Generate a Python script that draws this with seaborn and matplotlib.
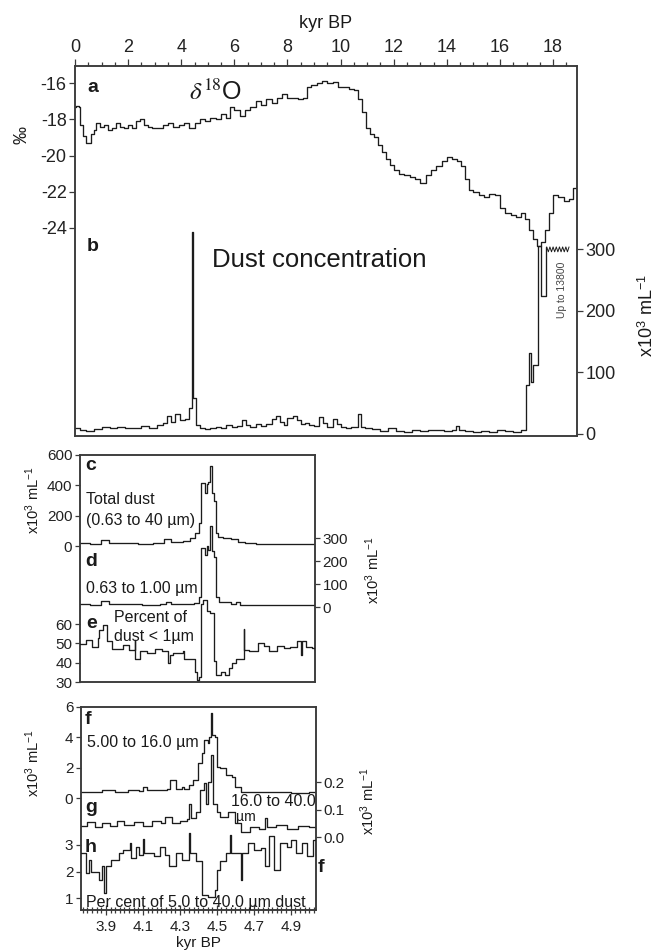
import numpy as np
import pandas as pd
import seaborn as sns
import matplotlib
matplotlib.use('Agg')
import matplotlib.pyplot as plt
from matplotlib.ticker import MultipleLocator

# ---- panel a : d18O (permil) against kyr BP
d18o_kyr = [0.0, 0.05, 0.15, 0.2, 0.3, 0.4, 0.5, 0.6, 0.7, 0.8, 0.95, 1.1, 1.25, 1.4, 1.55, 1.7, 1.85,
            2.0, 2.15, 2.3, 2.45, 2.6, 2.75, 2.9, 3.1, 3.3, 3.5, 3.7, 3.9, 4.1, 4.3, 4.5, 4.7, 4.9,
            5.1, 5.3, 5.5, 5.7, 5.85, 6.0, 6.2, 6.4, 6.6, 6.8, 7.0, 7.2, 7.4, 7.6, 7.8, 8.0, 8.2,
            8.4, 8.6, 8.75, 8.9, 9.1, 9.3, 9.5, 9.7, 9.9, 10.1, 10.3, 10.5, 10.65, 10.8, 10.95,
            11.1, 11.25, 11.4, 11.55, 11.7, 11.85, 12.0, 12.2, 12.4, 12.6, 12.8, 13.0, 13.2, 13.4,
            13.6, 13.8, 14.0, 14.2, 14.4, 14.55, 14.7, 14.85, 15.0, 15.2, 15.4, 15.6, 15.8, 16.0,
            16.2, 16.4, 16.6, 16.8, 16.95, 17.1, 17.25, 17.4, 17.55, 17.7, 17.85, 18.0, 18.2, 18.4,
            18.6, 18.75, 18.9]
d18o_val = [-17.3, -17.25, -17.3, -18.3, -18.9, -19.3, -19.3, -18.8, -18.6, -18.2, -18.4, -18.3, -18.6,
            -18.5, -18.2, -18.4, -18.5, -18.3, -18.5, -18.1, -18.0, -18.3, -18.4, -18.5, -18.5, -18.3,
            -18.2, -18.4, -18.3, -18.2, -18.5, -18.2, -18.0, -18.1, -17.9, -18.0, -17.7, -17.9, -17.3,
            -17.5, -17.8, -17.5, -17.3, -17.0, -17.2, -16.9, -17.1, -16.8, -16.6, -16.8, -16.8, -16.9,
            -16.8, -16.2, -16.1, -16.0, -15.9, -16.0, -15.95, -16.2, -16.2, -16.3, -16.4, -16.9, -17.6,
            -18.5, -18.8, -19.0, -19.4, -19.8, -20.2, -20.5, -20.8, -21.0, -21.1, -21.2, -21.3, -21.5,
            -21.1, -20.8, -20.6, -20.3, -20.1, -20.2, -20.3, -20.6, -21.3, -21.9, -22.0, -22.2, -22.3,
            -22.1, -22.2, -22.9, -23.2, -23.3, -23.4, -23.2, -23.5, -24.1, -24.6, -25.0, -24.8, -24.1,
            -23.2, -22.2, -22.3, -22.5, -22.4, -21.8, -21.6]

# ---- panel b : dust concentration (x10^3 per mL)
dust_kyr = [0.0, 0.2, 0.4, 0.7, 1.0, 1.3, 1.6, 1.9, 2.2, 2.5,
            2.8, 3.1, 3.3, 3.45, 3.6, 3.75, 3.95, 4.15, 4.28, 4.40,
            4.44, 4.55, 4.7, 4.9, 5.1, 5.3, 5.5, 5.7, 5.9, 6.1,
            6.3, 6.45, 6.6, 6.8, 7.0, 7.2, 7.4, 7.55, 7.7, 7.85,
            8.0, 8.2, 8.35, 8.5, 8.65, 8.8, 9.0, 9.2, 9.35, 9.5,
            9.7, 9.85, 10.0, 10.2, 10.4, 10.65, 10.75, 10.9, 11.2, 11.5,
            11.8, 12.1, 12.4, 12.7, 13.0, 13.3, 13.6, 13.9, 14.2, 14.35,
            14.45, 14.7, 15.0, 15.3, 15.6, 15.9, 16.2, 16.5, 16.8, 16.98,
            17.08, 17.16, 17.24, 17.45, 17.53, 17.72]
dust_val = [10, 6, 5, 8, 11, 9, 12, 10, 9, 13,
            10, 14, 18, 30, 20, 33, 22, 24, 42, 328,
            58, 14, 10, 8, 9, 12, 10, 14, 11, 13,
            22, 14, 12, 17, 13, 16, 24, 30, 20, 14,
            26, 30, 22, 16, 18, 14, 13, 28, 18, 12,
            25, 17, 12, 10, 12, 33, 12, 9, 8, 5,
            9, 5, 4, 6, 5, 7, 6, 5, 6, 13,
            6, 5, 4, 5, 4, 6, 5, 4, 6, 80,
            131, 84, 112, 305, 225, 304]
# off-scale part ("up to 13800") drawn as a zigzag break
break_kyr = [17.76, 17.82, 17.88, 17.94, 18.00, 18.06, 18.12, 18.18, 18.24, 18.30, 18.36, 18.42, 18.48, 18.54, 18.60]
break_val = [304, 296, 304, 296, 304, 296, 304, 296, 304, 296, 304, 296, 304, 296, 304]

kyr_ticks = [0, 2, 4, 6, 8, 10, 12, 14, 16, 18]
d18o_ticks = [-16, -18, -20, -22, -24]
dust_ticks = [0, 100, 200, 300]

# ---- panels c-e (detail around 4.5 kyr)
c_kyr = [3.765, 3.82, 3.88, 3.92, 4.0, 4.08, 4.16, 4.22, 4.26, 4.32, 4.36, 4.39, 4.41, 4.42, 4.44, 4.45,
         4.46, 4.47, 4.48, 4.49, 4.50, 4.51, 4.54, 4.58, 4.62, 4.66, 4.72, 4.8, 4.9, 5.0, 5.037]
c_val = [18, 16, 40, 18, 20, 16, 22, 45, 25, 30, 50, 85, 150, 415, 350, 410,
         420, 525, 350, 300, 85, 60, 55, 45, 28, 18, 14, 12, 12, 13, 13]
d_kyr = [3.765, 3.82, 3.88, 3.92, 4.0, 4.1, 4.2, 4.23, 4.26, 4.32, 4.38, 4.41, 4.42, 4.44, 4.45,
         4.46, 4.47, 4.48, 4.49, 4.50, 4.52, 4.58, 4.61, 4.63, 4.7, 4.8, 4.9, 5.0, 5.037]
d_val = [12, 10, 25, 12, 12, 10, 14, 22, 12, 14, 18, 45, 256, 226, 265,
         250, 352, 243, 217, 45, 22, 15, 20, 10, 9, 8, 8, 8, 8]
e_kyr = [3.765, 3.80, 3.83, 3.86, 3.87, 3.89, 3.91, 3.94, 4.00, 4.03,
         4.06, 4.065, 4.09, 4.13, 4.17, 4.21, 4.24, 4.25, 4.27, 4.32,
         4.33, 4.37, 4.39, 4.40, 4.41, 4.42, 4.43, 4.45, 4.47, 4.49,
         4.50, 4.53, 4.55, 4.57, 4.59, 4.61, 4.63, 4.65, 4.655, 4.68,
         4.73, 4.76, 4.79, 4.83, 4.87, 4.90, 4.94, 4.96, 4.965, 4.99,
         5.02, 5.037]
e_val = [49.8, 51.6, 48, 53, 57, 59.7, 51, 47, 49.4, 46.8,
         51.6, 41.7, 46, 45, 47, 46, 39.9, 44, 45, 46,
         41.7, 41.7, 35.4, 30.9, 32.7, 70.5, 72.3, 66.8, 65.9, 40.8,
         33.6, 35.4, 33.6, 37.2, 39.9, 41.7, 41.7, 57.4, 46.8, 46,
         50.4, 48.6, 46, 48.6, 47.7, 48, 51.4, 44, 51, 48,
         47.7, 46.8]

# ---- panels f-h
f_kyr = [3.765, 3.82, 3.88, 3.95, 4.02, 4.08, 4.10, 4.12, 4.18, 4.23,
         4.245, 4.28, 4.31, 4.32, 4.35, 4.37, 4.40, 4.42, 4.43, 4.45,
         4.46, 4.467, 4.475, 4.49, 4.50, 4.52, 4.55, 4.58, 4.60, 4.63,
         4.7, 4.8, 4.9, 5.0, 5.037]
f_val = [0.42, 0.38, 0.5, 0.4, 0.5, 0.45, 0.75, 0.5, 0.55, 0.6,
         1.19, 0.6, 0.75, 0.6, 0.86, 1.19, 2.29, 2.95, 3.82, 3.6,
         4.04, 5.58, 4.17, 4.04, 2.06, 1.95, 1.5, 1.4, 0.75, 0.42,
         0.38, 0.4, 0.35, 0.38, 0.36]
g_kyr = [3.765, 3.80, 3.84, 3.88, 3.92, 3.96, 4.00, 4.05, 4.10, 4.15,
         4.20, 4.22, 4.26, 4.30, 4.34, 4.35, 4.36, 4.39, 4.41, 4.43,
         4.44, 4.455, 4.467, 4.48, 4.50, 4.52, 4.56, 4.60, 4.63, 4.68,
         4.73, 4.76, 4.77, 4.82, 4.88, 4.94, 5.0, 5.037]
g_val = [0.04, 0.055, 0.035, 0.05, 0.04, 0.06, 0.045, 0.055, 0.04, 0.06,
         0.05, 0.074, 0.05, 0.06, 0.065, 0.12, 0.07, 0.09, 0.17, 0.197,
         0.12, 0.2, 0.298, 0.12, 0.09, 0.074, 0.09, 0.05, 0.02, 0.035,
         0.03, 0.07, 0.035, 0.045, 0.03, 0.04, 0.035, 0.03]
h_kyr = [3.765, 3.79, 3.81, 3.82, 3.86, 3.88, 3.89, 3.90, 3.93, 3.97,
         3.99, 4.03, 4.035, 4.06, 4.08, 4.10, 4.105, 4.16, 4.19, 4.22,
         4.24, 4.28, 4.31, 4.35, 4.355, 4.39, 4.42, 4.45, 4.49, 4.50,
         4.52, 4.55, 4.57, 4.575, 4.60, 4.63, 4.635, 4.67, 4.70, 4.74,
         4.76, 4.78, 4.81, 4.84, 4.88, 4.90, 4.93, 4.96, 4.99, 5.02,
         5.037]
h_val = [2.69, 1.93, 2.44, 1.97, 1.68, 2.19, 1.18, 2.19, 2.44, 2.69,
         2.82, 3.06, 2.5, 2.94, 2.63, 3.22, 2.7, 2.57, 2.94, 2.63,
         2.19, 2.69, 2.44, 3.44, 2.69, 2.38, 1.11, 1.05, 1.31, 2.06,
         2.38, 2.69, 3.38, 2.69, 2.69, 1.68, 2.69, 3.06, 2.82, 2.9,
         2.19, 3.32, 2.06, 3.06, 2.94, 3.2, 2.69, 3.06, 2.57, 3.2,
         2.63]

zoom_ticks = [3.9, 4.1, 4.3, 4.5, 4.7, 4.9]
zoom_labels = ['3.9', '4.1', '4.3', '4.5', '4.7', '4.9']

sns.set_theme(style='ticks')
plt.rcParams['font.family'] = ['Liberation Sans', 'DejaVu Sans']
plt.rcParams['axes.unicode_minus'] = False
plt.rcParams['mathtext.fontset'] = 'stix'

W, H = 659, 951
fig = plt.figure(figsize=(W / 100, H / 100), dpi=100)
INK = '#1c1c1c'
EDGE = '#3a3a3a'
UNIT = r'x10$^\mathregular{3}$ mL$^\mathregular{-1}$'


def rect(l, t, r, b):
    return [l / W, 1 - b / H, (r - l) / W, (b - t) / H]


def put(px, py, s, **kw):
    kw.setdefault('color', '#1a1a1a')
    kw.setdefault('va', 'center')
    fig.text(px / W, 1 - py / H, s, **kw)


def trace(ax, x, y, lw=0.95, ds='steps-post'):
    sns.lineplot(x=x, y=y, ax=ax, estimator=None, sort=False,
                 drawstyle=ds, color=INK, linewidth=lw)
    ax.set_xlabel('')
    ax.set_ylabel('')


def frame(ax, size):
    for s in ax.spines.values():
        s.set_color(EDGE)
        s.set_linewidth(1.1)
    ax.tick_params(which='both', colors=EDGE, labelcolor='#222', width=0.9, labelsize=size, pad=2)


def overlay(r, share):
    ax = fig.add_axes(r, sharex=share)
    ax.patch.set_visible(False)
    for s in ax.spines.values():
        s.set_visible(False)
    ax.tick_params(axis='x', which='both', bottom=False, labelbottom=False, top=False, labeltop=False)
    return ax


# ---------------- a / b
ax_a = fig.add_axes(rect(75, 66, 577, 436))
ax_b = ax_a.twinx()
trace(ax_a, d18o_kyr, d18o_val)
trace(ax_b, dust_kyr, dust_val)
trace(ax_b, break_kyr, break_val, lw=0.7, ds='default')
ax_a.set_xlim(0, 18.9)
ax_a.set_ylim(-35.5, -15.05)
ax_b.set_ylim(-3.3, 598)
ax_a.set_yticks(d18o_ticks)
ax_b.set_yticks(dust_ticks)
ax_a.xaxis.tick_top()
ax_a.set_xticks(kyr_ticks)
ax_a.xaxis.set_minor_locator(MultipleLocator(0.5))
ax_a.xaxis.set_label_position('top')
ax_a.set_xlabel('kyr BP', fontsize=13, labelpad=8, color='#1a1a1a')
for ax in (ax_a, ax_b):
    frame(ax, 13)
ax_a.tick_params(axis='x', which='major', length=5)
ax_a.tick_params(axis='x', which='minor', length=3)
ax_a.tick_params(axis='y', length=4)
ax_b.tick_params(axis='y', length=4)

put(22, 135, '‰', fontsize=13, rotation=90, ha='center')
put(647, 315, UNIT, fontsize=13, rotation=90, ha='center')
put(87, 87, 'a', fontsize=14, fontweight='bold')
put(87, 247, 'b', fontsize=14, fontweight='bold')
put(189, 92, r'$\delta^{18}$O', fontsize=18)
put(212, 260, 'Dust concentration', fontsize=18.5)
put(562, 290, 'Up to 13800', fontsize=7.5, rotation=90, ha='center', color='#444')

# ---------------- c / d / e
r_ce = rect(80, 455, 315, 682)
ax_c = fig.add_axes(r_ce)
ax_d = ax_c.twinx()
ax_e = overlay(r_ce, ax_c)
trace(ax_c, c_kyr, c_val)
trace(ax_d, d_kyr, d_val)
trace(ax_e, e_kyr, e_val)
ax_c.set_xlim(3.765, 5.037)
ax_c.set_ylim(-896, 600)
ax_d.set_ylim(-326, 661)
ax_e.set_ylim(30, 147.6)
ax_c.set_yticks([0, 200, 400, 600])
ax_d.set_yticks([0, 100, 200, 300])
ax_e.set_yticks([30, 40, 50, 60])
ax_c.tick_params(axis='x', which='both', bottom=False, labelbottom=False)
for ax in (ax_c, ax_d, ax_e):
    frame(ax, 11)
    ax.tick_params(axis='y', length=3.5)

put(33, 500, UNIT, fontsize=10.5, rotation=90, ha='center')
put(373, 570, UNIT, fontsize=10.5, rotation=90, ha='center')
put(85, 465, 'c', fontsize=14, fontweight='bold')
put(85, 562, 'd', fontsize=14, fontweight='bold')
put(86, 623, 'e', fontsize=14, fontweight='bold')
put(86, 500, 'Total dust', fontsize=11.5)
put(86, 521, '(0.63 to 40 µm)', fontsize=11.5)
put(86, 588, '0.63 to 1.00 µm', fontsize=11.5)
put(114, 617, 'Percent of', fontsize=11.5)
put(114, 637, 'dust < 1µm', fontsize=11.5)

# ---------------- f / g / h
r_fh = rect(81, 707, 316, 910)
ax_f = fig.add_axes(r_fh)
ax_g = ax_f.twinx()
ax_h = overlay(r_fh, ax_f)
trace(ax_f, f_kyr, f_val)
trace(ax_g, g_kyr, g_val)
trace(ax_h, h_kyr, h_val)
ax_f.set_xlim(3.765, 5.037)
ax_f.set_ylim(-7.38, 6)
ax_g.set_ylim(-0.265, 0.473)
ax_h.set_ylim(0.55, 8.2)
ax_f.set_yticks([0, 2, 4, 6])
ax_g.set_yticks([0.0, 0.1, 0.2])
ax_g.set_yticklabels(['0.0', '0.1', '0.2'])
ax_h.set_yticks([1, 2, 3])
ax_f.set_xticks(zoom_ticks)
ax_f.set_xticklabels(zoom_labels)
ax_f.xaxis.set_minor_locator(MultipleLocator(0.025))
for ax in (ax_f, ax_g, ax_h):
    frame(ax, 11)
    ax.tick_params(axis='y', length=3.5)
ax_f.tick_params(axis='x', which='major', direction='inout', length=7, pad=4)
ax_f.tick_params(axis='x', which='minor', direction='inout', length=5)
ax_f.set_xlabel('kyr BP', fontsize=11, labelpad=1, color='#1a1a1a')

put(33, 763, UNIT, fontsize=10.5, rotation=90, ha='center')
put(368, 801, UNIT, fontsize=10.5, rotation=90, ha='center')
put(85, 720, 'f', fontsize=14, fontweight='bold')
put(85, 808, 'g', fontsize=14, fontweight='bold')
put(85, 847, 'h', fontsize=14, fontweight='bold')
put(87, 743, '5.00 to 16.0 µm', fontsize=11.5)
put(231, 801, '16.0 to 40.0', fontsize=11.5)
put(236, 817, 'µm', fontsize=10)
put(86, 902, 'Per cent of 5.0 to 40.0 µm dust', fontsize=11.5)
put(318, 868, 'f', fontsize=14, fontweight='bold')

fig.savefig('out.png', dpi=100)
